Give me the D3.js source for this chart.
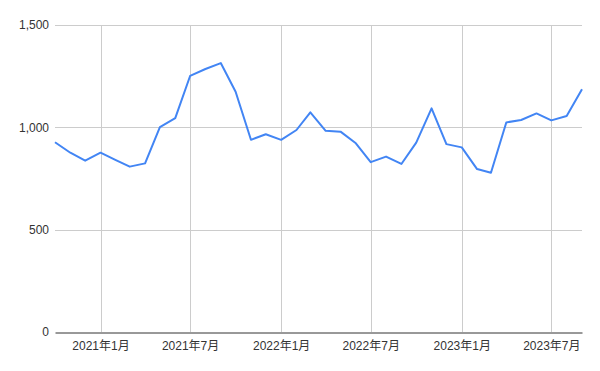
<!DOCTYPE html>
<html>
<head>
<meta charset="utf-8">
<script src="https://cdn.jsdelivr.net/npm/d3@7"></script>
<style>
  body { margin: 0; background: #fff; }
  text { font-family: "Liberation Sans", Arial, "Noto Sans CJK JP", sans-serif; fill: #333; }
</style>
</head>
<body>
<svg id="chart" width="600" height="371"></svg>
<script>
// monthly series, Oct 2020 .. Sep 2023
const months = [
	"2020-10", "2020-11", "2020-12",
	"2021-01", "2021-02", "2021-03", "2021-04", "2021-05", "2021-06",
	"2021-07", "2021-08", "2021-09", "2021-10", "2021-11", "2021-12",
	"2022-01", "2022-02", "2022-03", "2022-04", "2022-05", "2022-06",
	"2022-07", "2022-08", "2022-09", "2022-10", "2022-11", "2022-12",
	"2023-01", "2023-02", "2023-03", "2023-04", "2023-05", "2023-06",
	"2023-07", "2023-08", "2023-09"
];
const values = [
	927, 876, 837,
	876, 840, 808, 824, 1001, 1045,
	1251, 1285, 1314, 1174, 939, 966,
	939, 987, 1073, 983, 979, 922,
	830, 857, 821, 925, 1093, 918,
	902, 796, 778, 1024, 1036, 1068,
	1034, 1055, 1186
];
const xTickMonths = ["2021-01", "2021-07", "2022-01", "2022-07", "2023-01", "2023-07"];
const yTicks = [0, 500, 1000, 1500];

const parseMonth = d3.timeParse("%Y-%m");
const margin = {top: 25, right: 18, bottom: 39, left: 55};
const width = 600, height = 371;

const svg = d3.select("#chart");

const x = d3.scaleTime()
	.domain([parseMonth(months[0]), parseMonth(months[months.length - 1])])
	.range([margin.left, width - margin.right]);

const y = d3.scaleLinear()
	.domain([0, 1500])
	.range([height - margin.bottom, margin.top]);

// horizontal grid
svg.append("g")
	.selectAll("line")
	.data(yTicks.filter(d => d > 0))
	.join("line")
	.attr("x1", margin.left)
	.attr("x2", width - margin.right)
	.attr("y1", d => Math.round(y(d)) + 0.5)
	.attr("y2", d => Math.round(y(d)) + 0.5)
	.attr("stroke", "#cccccc");

// vertical grid
svg.append("g")
	.selectAll("line")
	.data(xTickMonths.map(parseMonth))
	.join("line")
	.attr("x1", d => Math.round(x(d)) + 0.5)
	.attr("x2", d => Math.round(x(d)) + 0.5)
	.attr("y1", margin.top)
	.attr("y2", height - margin.bottom)
	.attr("stroke", "#cccccc");

// y labels
svg.append("g")
	.selectAll("text")
	.data(yTicks)
	.join("text")
	.attr("x", margin.left - 6)
	.attr("y", d => y(d))
	.attr("dy", "0.35em")
	.attr("text-anchor", "end")
	.attr("font-size", 12)
	.text(d => d3.format(",")(d));

// x axis
const xAxis = d3.axisBottom(x)
	.tickValues(xTickMonths.map(parseMonth))
	.tickSize(0)
	.tickPadding(9)
	.tickFormat(d => d.getFullYear() + "年" + (d.getMonth() + 1) + "月");

const gx = svg.append("g")
	.attr("transform", "translate(0," + (Math.round(y(0)) + 0.5) + ")")
	.call(xAxis);
gx.select(".domain").attr("stroke", "#333333");
gx.selectAll("text")
	.attr("font-size", 12)
	.attr("font-family", "'Liberation Sans', Arial, 'Noto Sans CJK JP', sans-serif")
	.attr("fill", "#333");

// series line
const line = d3.line()
	.x((d, i) => x(parseMonth(months[i])))
	.y(d => y(d));

svg.append("path")
	.datum(values)
	.attr("fill", "none")
	.attr("stroke", "#4285f4")
	.attr("stroke-width", 2)
	.attr("stroke-linejoin", "round")
	.attr("d", line);
</script>
</body>
</html>
